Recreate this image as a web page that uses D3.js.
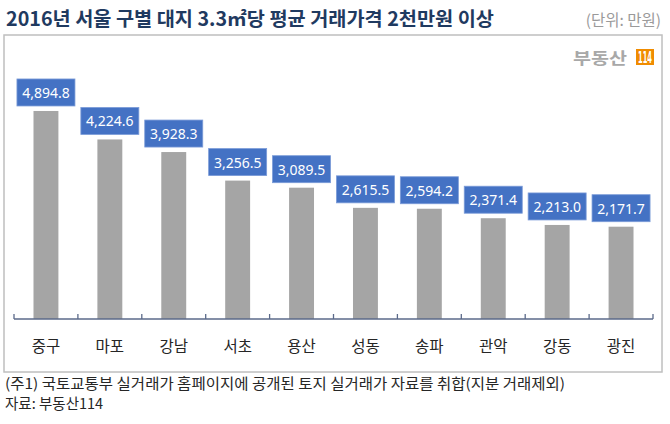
<!DOCTYPE html>
<html><head><meta charset="utf-8">
<script src="https://cdn.jsdelivr.net/npm/d3@7/dist/d3.min.js"></script>
<style>
body{margin:0;background:#fff;}
svg{display:block;font-family:"Noto Sans CJK KR","Noto Sans",sans-serif;}
</style></head>
<body><svg id="c" width="670" height="424"></svg>
<script>
const categories = ["중구","마포","강남","서초","용산","성동","송파","관악","강동","광진"];
const values = [4894.8,4224.6,3928.3,3256.5,3089.5,2615.5,2594.2,2371.4,2213.0,2171.7];
const titleText = "2016년 서울 구별 대지 3.3㎡당 평균 거래가격 2천만원 이상";
const unitText = "(단위: 만원)";
const notes = ["(주1) 국토교통부 실거래가 홈페이지에 공개된 토지 실거래가 자료를 취합(지분 거래제외)","자료: 부동산114"];

const svg = d3.select("#c");
// frame
svg.append("rect").attr("x",4).attr("y",35).attr("width",658).attr("height",337)
  .attr("fill","#fff").attr("stroke","#bfbfbf").attr("stroke-width",1.5);

svg.append("text").attr("x",6).attr("y",26).attr("font-size",19.5).attr("font-weight","bold")
  .attr("fill","#1f3a60").attr("textLength",488).attr("lengthAdjust","spacingAndGlyphs").text(titleText);
svg.append("text").attr("x",661).attr("y",26).attr("text-anchor","end").attr("font-size",15.5)
  .attr("fill","#9a9a9a").text(unitText);

// logo
svg.append("text").attr("x",573).attr("y",64).attr("font-size",16).attr("font-weight","bold")
  .attr("fill","#a8a8a8").attr("textLength",54).attr("lengthAdjust","spacingAndGlyphs").text("부동산");
svg.append("rect").attr("x",636).attr("y",49).attr("width",18).attr("height",16).attr("fill","#f08c00");
svg.append("text").attr("x",645).attr("y",63).attr("text-anchor","middle").attr("font-size",15).attr("font-weight","bold")
  .attr("font-family","\"Liberation Sans Narrow\",\"DejaVu Sans Condensed\",sans-serif")
  .attr("textLength",14).attr("lengthAdjust","spacingAndGlyphs")
  .attr("fill","#fff").text("114");

const x = d3.scaleBand().domain(categories).range([14,653]).paddingInner(0.61).paddingOuter(0.305);
const y = d3.scaleLinear().domain([0,5000]).range([319,106.5]);
const fmt = d3.format(",.1f");

svg.append("g").selectAll("rect").data(values).join("rect")
  .attr("x",(d,i)=>x(categories[i])).attr("width",x.bandwidth())
  .attr("y",d=>y(d)).attr("height",d=>y(0)-y(d)).attr("fill","#a5a5a5");

// axis
const axisY = y(0);
const step = x.step();
const x0 = x.range()[0];
const g = svg.append("g").attr("stroke","#5b6a8a").attr("stroke-width",1.3);
g.append("line").attr("x1",x0).attr("x2",x.range()[1]).attr("y1",axisY).attr("y2",axisY);
g.selectAll("line.t").data(d3.range(categories.length+1)).join("line").attr("class","t")
  .attr("x1",i=>x0+i*step).attr("x2",i=>x0+i*step).attr("y1",axisY).attr("y2",axisY-5);

const ax = svg.append("g").attr("transform",`translate(0,${axisY})`)
  .call(d3.axisBottom(x).tickSize(0).tickPadding(0));
ax.select(".domain").remove();
ax.selectAll("text").attr("y",33).attr("dy",0).attr("font-size",15.5).attr("fill","#262626")
  .attr("font-family","\"Noto Sans CJK KR\",sans-serif");

// labels
const lab = svg.append("g").selectAll("g").data(values).join("g")
  .attr("transform",(d,i)=>`translate(${x(categories[i])+x.bandwidth()/2},${y(d)-5})`);
lab.append("rect").attr("x",-29).attr("y",-27).attr("width",58).attr("height",27)
  .attr("fill","#4472c4").attr("stroke","#7b9bd8").attr("stroke-width",0.8);
lab.append("text").attr("y",-8).attr("text-anchor","middle").attr("font-size",14)
  .attr("font-family","\"Noto Sans\",sans-serif").attr("fill","#fff").text(d=>fmt(d));

// notes
const noteLen = [560, null];
svg.selectAll("text.n").data(notes).join("text").attr("class","n")
  .attr("x",5).attr("y",(d,i)=>389+i*20).attr("font-size",14.5).attr("fill","#262626")
  .each(function(d,i){ if(noteLen[i]) d3.select(this).attr("textLength",noteLen[i]).attr("lengthAdjust","spacingAndGlyphs"); })
  .text(d=>d);
</script></body></html>
